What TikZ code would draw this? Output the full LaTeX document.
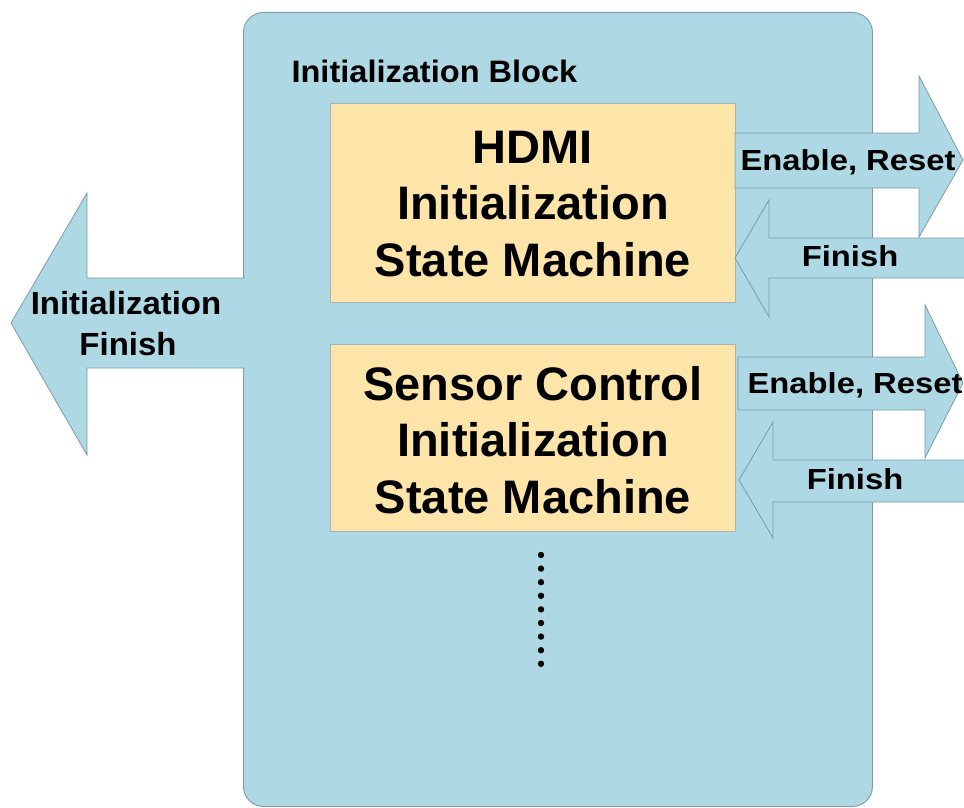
\documentclass[tikz,border=0pt]{standalone}
\usepackage{fontspec}
\setmainfont{Liberation Sans}
\definecolor{blk}{RGB}{173,216,228}
\definecolor{blkline}{RGB}{125,155,170}
\definecolor{smfill}{RGB}{253,228,168}
\definecolor{smline}{RGB}{165,180,185}
\tikzset{
  blockbox/.style={draw=blkline, fill=blk, line width=0.9pt, rounded corners=20pt, inner sep=0pt, anchor=north west},
  smbox/.style={draw=smline, fill=smfill, line width=0.9pt, inner sep=0pt, anchor=north west},
  smtext/.style={align=center, font=\fontsize{47}{56.5}\selectfont\bfseries},
  barrow/.style={draw=blkline, fill=blk, line width=0.8pt, line join=miter},
  alabel/.style={anchor=base, font=\fontsize{29}{34}\selectfont\bfseries},
  llabel/.style={anchor=base, font=\fontsize{32}{38}\selectfont\bfseries}
}
\begin{document}
\begin{tikzpicture}[x=1pt,y=-1pt]
\useasboundingbox (0,0) rectangle (964,808);
\clip (0,0) rectangle (964,808);
\fill[white] (0,0) rectangle (964,808);
% main block
\node[blockbox, minimum width=629pt, minimum height=794pt] (block) at (243,12) {};
\node[anchor=base west, font=\fontsize{31}{36}\selectfont\bfseries] (blocklabel) at (288,83) {\scalebox{1.05}[1]{Initialization Block}};
% left arrow
\draw[barrow] (245,278) -- (87,278) -- (87,193) -- (11,323) -- (87,455) -- (87,368) -- (245,368);
\node[llabel] (lf1) at (126,314) {\scalebox{1.03}[1]{Initialization}};
\node[llabel] (lf2) at (128,355) {\scalebox{1.03}[1]{Finish}};
% state machine boxes
\node[smbox, minimum width=405pt, minimum height=199pt] (hdmi) at (330,103) {};
\node[smtext] (hdmitext) at ([yshift=-1pt]hdmi.center) {HDMI\\Initialization\\State Machine};
\node[smbox, minimum width=405pt, minimum height=187pt] (sensor) at (330,344) {};
\node[smtext] (sensortext) at ([yshift=-2pt]sensor.center) {Sensor Control\\Initialization\\State Machine};
% right arrows (top)
\draw[barrow] (735,133) -- (919,133) -- (919,76) -- (963,160) -- (919,237) -- (919,188) -- (735,188) -- cycle;
\draw[barrow] (975,238) -- (769,238) -- (769,200) -- (735,258) -- (769,317) -- (769,278) -- (975,278);
\node[alabel] (en1) at (848,170) {\scalebox{1.13}[1]{Enable, Reset}};
\node[alabel] (fi1) at (850,266) {\scalebox{1.13}[1]{Finish}};
% right arrows (bottom)
\draw[barrow] (738,357) -- (925,357) -- (925,305) -- (963,383) -- (925,458) -- (925,410) -- (738,410) -- cycle;
\draw[barrow] (975,460) -- (773,460) -- (773,422) -- (739,480) -- (773,538) -- (773,502) -- (975,502);
\node[alabel] (en2) at (855,393) {\scalebox{1.13}[1]{Enable, Reset}};
\node[alabel] (fi2) at (855,489) {\scalebox{1.13}[1]{Finish}};
% dots
\foreach \i in {0,...,8} \fill[black] (541,555+13.6*\i) circle (3.2pt);
\end{tikzpicture}
\end{document}
